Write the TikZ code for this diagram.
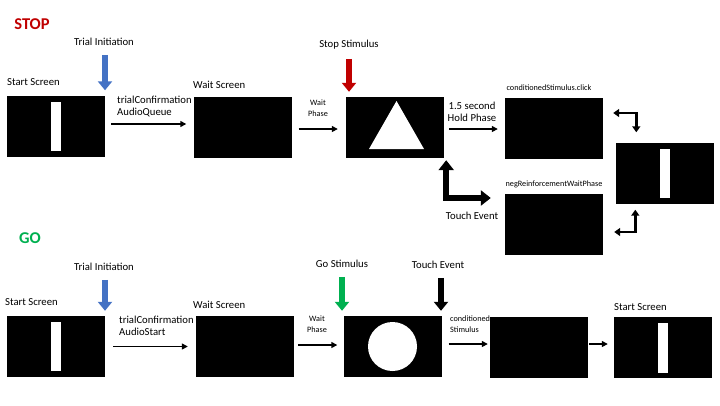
\documentclass[tikz,border=0pt]{standalone}
\usepackage{fontspec}
\setmainfont{Carlito}
\usetikzlibrary{arrows.meta, calc}
\definecolor{stopred}{RGB}{192,0,0}
\definecolor{gogreen}{RGB}{0,176,80}
\definecolor{cueblue}{RGB}{68,114,196}
\tikzset{
  screen/.style={rectangle, fill=black, minimum width=98pt,
    minimum height=61pt, inner sep=0pt},
  lbl/.style={font=\fontsize{10.7}{12}\selectfont, inner sep=0pt},
  tinylbl/.style={font=\fontsize{8.2}{10.8}\selectfont, inner sep=0pt},
  hdr/.style={font=\fontsize{16.5}{18}\selectfont\bfseries, inner sep=0pt},
  flow/.style={-{Triangle[length=6pt,width=6pt]}, line width=1.4pt},
  cue/.style={-{Triangle[length=9pt,width=14pt]}, line width=6.5pt,
    shorten <=9pt, shorten >=5pt},
  elbow/.style={{Triangle[length=6pt,width=8pt]}-{Triangle[length=6pt,width=8pt]},
    line width=2.6pt},
  bigelbow/.style={{Triangle[length=10pt,width=15pt]}-{Triangle[length=10pt,width=15pt]},
    line width=6pt}
}
\begin{document}
\begin{tikzpicture}[x=1pt, y=-1pt]
  \useasboundingbox (0,0) rectangle (720,405);

  % STOP trial
  \node[hdr, text=stopred] (stoptitle) at (32,24) {STOP};

  \node[screen] (start1) at (56,126) {};
  \node[screen] (wait1) at (242.5,127.5) {};
  \node[screen] (stop1) at (395,127.5) {};
  \node[screen] (cond1) at (554,128) {};
  \node[screen] (neg1) at (554,224.5) {};
  \node[screen] (end1) at (664.5,173) {};

  % pictures on the screens
  \fill[white] ($(start1.center)+(-5,-24.5)$) rectangle ++(10,49);
  \fill[white] ($(end1.center)+(-5,-24)$) rectangle ++(10,49);
  \fill[white] ($(stop1.center)+(1.5,-26.5)$) -- ($(stop1.center)+(29,21.5)$)
    -- ($(stop1.center)+(-26,21.5)$) -- cycle;

  % labels
  \node[lbl, anchor=west] (ss1) at (7,82) {Start Screen};
  \node[lbl] (ti1) at (104,42) {Trial Initiation};
  \node[lbl, anchor=west, align=left] (tc1) at (117,106) {trialConfirmation\\AudioQueue};
  \node[lbl, anchor=west] (ws1) at (193,85) {Wait Screen};
  \node[tinylbl, align=center] (wp1) at (318,108.5) {Wait\\Phase};
  \node[lbl] (ssti) at (349,45) {Stop Stimulus};
  \node[lbl, align=center] (hold) at (472,112) {1.5 second\\Hold Phase};
  \node[tinylbl] (cs1) at (549,88) {conditionedStimulus.click};
  \node[tinylbl] (neg) at (554,184) {negReinforcementWaitPhase};
  \node[lbl] (te1) at (472,216) {Touch Event};

  % arrows
  \draw[cue, cueblue] ([xshift=1pt]ti1.south) -- ([xshift=1pt]ti1.south |- start1.north);
  \draw[cue, stopred] (ssti.south) -- (ssti.south |- stop1.north);
  \draw[flow, shorten <=6pt, shorten >=7pt] ([yshift=2pt]start1.east)
    -- ([yshift=2pt]start1.east -| wait1.west);
  \draw[flow, shorten <=7pt, shorten >=8pt] ([yshift=-1.5pt]wait1.east)
    -- ([yshift=-1.5pt]wait1.east -| stop1.west);
  \draw[flow, shorten <=5pt, shorten >=7pt] ([yshift=-1.5pt]stop1.east)
    -- ([yshift=-1.5pt]stop1.east -| cond1.west);
  \draw[bigelbow] ($(neg1.west)+(-14,-26.5)$) -| ($(stop1.south east)+(2,2)$);
  \draw[elbow] ($(cond1.east)+(10,-15)$) -| ($(end1.north west)+(21,-10)$);
  \draw[elbow] ($(end1.south west)+(20,6)$) |- ($(neg1.east)+(11,7.5)$);

  % GO trial
  \node[hdr, text=gogreen] (gotitle) at (30,238) {GO};

  \node[screen] (start2) at (56,346.5) {};
  \node[screen] (wait2) at (245,346.5) {};
  \node[screen] (go2) at (392.5,346.5) {};
  \node[screen] (cond2) at (539,347.5) {};
  \node[screen] (end2) at (663,347.5) {};

  \fill[white] ($(start2.center)+(-5,-24.5)$) rectangle ++(10,49);
  \fill[white] ($(end2.center)+(-5,-25)$) rectangle ++(10,50);
  \fill[white] (go2.center) circle (24.5);

  \node[lbl, anchor=west] (ss2) at (5,302) {Start Screen};
  \node[lbl] (ti2) at (104,267) {Trial Initiation};
  \node[lbl, anchor=west, align=left] (tc2) at (119,326) {trialConfirmation\\AudioStart};
  \node[lbl, anchor=west] (ws2) at (193,305) {Wait Screen};
  \node[tinylbl, align=center] (wp2) at (317,324.5) {Wait\\Phase};
  \node[lbl] (gsti) at (342,264) {Go Stimulus};
  \node[lbl] (te2) at (438,265) {Touch Event};
  \node[tinylbl, anchor=west, align=left] (cs2) at (450,324) {conditioned\\Stimulus};
  \node[lbl, anchor=west] (ss3) at (614,307) {Start Screen};

  \draw[cue, cueblue] ([xshift=1pt]ti2.south) -- ([xshift=1pt]ti2.south |- start2.north);
  \draw[cue, gogreen] (gsti.south) -- (gsti.south |- go2.north);
  \draw[cue, black] ([xshift=3pt]te2.south) -- ([xshift=3pt]te2.south |- go2.north);
  \draw[flow, shorten <=8pt, shorten >=8pt] (start2.east) -- (start2.east -| wait2.west);
  \draw[flow, shorten <=4pt, shorten >=6pt] ([yshift=1.5pt]wait2.east)
    -- ([yshift=1.5pt]wait2.east -| go2.west);
  \draw[flow, shorten <=7pt, shorten >=2pt] ([yshift=2.5pt]go2.east)
    -- ([yshift=2.5pt]go2.east -| cond2.west);
  \draw[flow, shorten <=1pt, shorten >=6pt] ([yshift=3.5pt]cond2.east)
    -- ([yshift=3.5pt]cond2.east -| end2.west);
\end{tikzpicture}
\end{document}
